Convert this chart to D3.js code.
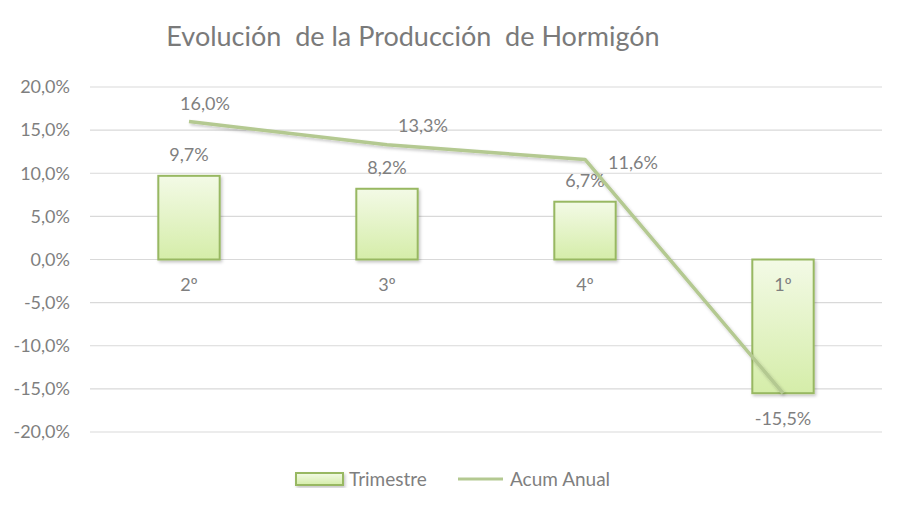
<!DOCTYPE html>
<html>
<head>
<meta charset="utf-8">
<script src="https://cdn.jsdelivr.net/npm/d3@7"></script>
<style>
  body { margin: 0; background: #fff; }
  text { font-family: Lato, "Open Sans", sans-serif; fill: #7f7f7f; }
</style>
</head>
<body>
<svg id="chart" width="900" height="507"></svg>
<script>
const categories = ["2º", "3º", "4º", "1º"];
const trimestre = [9.7, 8.2, 6.7, -15.5];
const acumAnual = [16.0, 13.3, 11.6, -15.5];
const yTicks = [20, 15, 10, 5, 0, -5, -10, -15, -20];
const titleText = "Evolución  de la Producción  de Hormigón";
const legendLabels = ["Trimestre", "Acum Anual"];

const plot = { left: 90, right: 882, top: 87, bottom: 432 };
const barColor = "#98b862";
const lineColor = "#b4c991";
const labelSize = "18px";

const es = d3.formatLocale({ decimal: ",", thousands: ".", grouping: [3], currency: ["", "€"], minus: "-" });
const pct = (v) => es.format(".1f")(v) + "%";

const svg = d3.select("#chart");

const defs = svg.append("defs");
const grad = defs.append("linearGradient")
  .attr("id", "barGrad")
  .attr("x1", 0).attr("y1", 0).attr("x2", 0).attr("y2", 1);
grad.append("stop").attr("offset", "0%").attr("stop-color", "#f3fae6");
grad.append("stop").attr("offset", "100%").attr("stop-color", "#d5eda9");

const shadow = defs.append("filter").attr("id", "shadow")
  .attr("x", "-20%").attr("y", "-20%").attr("width", "140%").attr("height", "140%");
shadow.append("feDropShadow")
  .attr("dx", 1.5).attr("dy", 2).attr("stdDeviation", 1.5)
  .attr("flood-color", "#000").attr("flood-opacity", 0.22);

const x = d3.scaleBand()
  .domain(categories)
  .range([plot.left, plot.right])
  .paddingInner(0.69)
  .paddingOuter(0.345);

const y = d3.scaleLinear()
  .domain([-20, 20])
  .range([plot.bottom, plot.top]);

// title (double spaces kept as in the original)
svg.append("text")
  .attr("x", 413)
  .attr("y", 46)
  .attr("text-anchor", "middle")
  .style("font-size", "27px")
  .style("white-space", "pre")
  .style("fill", "#7a7a7a")
  .text(titleText);

// gridlines
svg.append("g")
  .selectAll("line")
  .data(yTicks)
  .join("line")
  .attr("x1", plot.left)
  .attr("x2", plot.right)
  .attr("y1", (d) => y(d))
  .attr("y2", (d) => y(d))
  .attr("stroke", "#d9d9d9")
  .attr("stroke-width", 1.2);

// y axis labels
const yAxis = svg.append("g")
  .attr("transform", `translate(${plot.left - 20},0)`)
  .call(d3.axisLeft(y).tickValues(yTicks).tickFormat(pct).tickSize(0).tickPadding(0));
yAxis.select(".domain").remove();
yAxis.selectAll("text")
  .style("font-size", labelSize)
  .style("fill", "#7f7f7f")
  .style("font-family", "Lato, 'Open Sans', sans-serif");

// bars
svg.append("g")
  .selectAll("rect")
  .data(trimestre)
  .join("rect")
  .attr("x", (d, i) => x(categories[i]))
  .attr("width", x.bandwidth())
  .attr("y", (d) => y(Math.max(0, d)))
  .attr("height", (d) => Math.abs(y(d) - y(0)))
  .attr("fill", "url(#barGrad)")
  .attr("stroke", barColor)
  .attr("stroke-width", 2)
  .attr("filter", "url(#shadow)");

// category labels
svg.append("g")
  .selectAll("text")
  .data(categories)
  .join("text")
  .attr("x", (d) => x(d) + x.bandwidth() / 2)
  .attr("y", y(0) + 25)
  .attr("dy", "0.35em")
  .attr("text-anchor", "middle")
  .style("font-size", labelSize)
  .text((d) => d);

// bar value labels
svg.append("g")
  .selectAll("text")
  .data(trimestre)
  .join("text")
  .filter((d) => d >= 0)
  .attr("x", (d, i) => x(categories[i]) + x.bandwidth() / 2)
  .attr("y", (d) => y(d) - 21)
  .attr("dy", "0.35em")
  .attr("text-anchor", "middle")
  .style("font-size", labelSize)
  .text((d) => pct(d));

// line
const cx = (i) => x(categories[i]) + x.bandwidth() / 2;
const line = d3.line()
  .x((d, i) => cx(i))
  .y((d) => y(d));

svg.append("path")
  .datum(acumAnual)
  .attr("d", line)
  .attr("fill", "none")
  .attr("stroke", lineColor)
  .attr("stroke-width", 3.5)
  .attr("stroke-linejoin", "round")
  .attr("filter", "url(#shadow)");

// line value labels
const lineLabelOffset = [[16, -18], [36, -19], [48, 3], [0, 26]];
svg.append("g")
  .selectAll("text")
  .data(acumAnual)
  .join("text")
  .attr("x", (d, i) => cx(i) + lineLabelOffset[i][0])
  .attr("y", (d, i) => y(d) + lineLabelOffset[i][1])
  .attr("dy", "0.35em")
  .attr("text-anchor", "middle")
  .style("font-size", labelSize)
  .text((d) => pct(d));

// legend
const legend = svg.append("g").attr("transform", "translate(0,479)");
legend.append("rect")
  .attr("x", 296).attr("y", -6)
  .attr("width", 47).attr("height", 12)
  .attr("fill", "url(#barGrad)")
  .attr("stroke", barColor)
  .attr("stroke-width", 2)
  .attr("filter", "url(#shadow)");
legend.append("text")
  .attr("x", 349).attr("y", 0)
  .attr("dy", "0.35em")
  .style("font-size", "19px")
  .text(legendLabels[0]);
legend.append("line")
  .attr("x1", 458).attr("x2", 503)
  .attr("y1", 0).attr("y2", 0)
  .attr("stroke", lineColor)
  .attr("stroke-width", 3);
legend.append("text")
  .attr("x", 510).attr("y", 0)
  .attr("dy", "0.35em")
  .style("font-size", "19px")
  .text(legendLabels[1]);
</script>
</body>
</html>
